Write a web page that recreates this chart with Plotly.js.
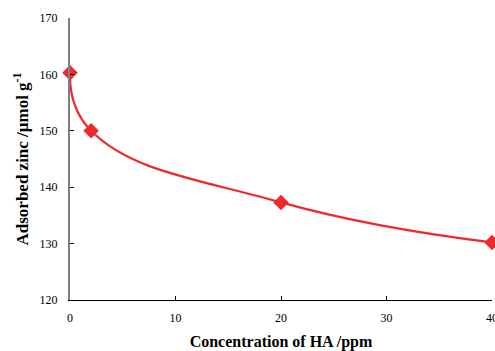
<!DOCTYPE html>
<html>
<head>
<meta charset="utf-8">
<script src="https://cdn.plot.ly/plotly-3.0.1.min.js"></script>
<style>html,body{margin:0;padding:0;background:#fff;}#chart{width:495px;height:351px;}</style>
</head>
<body>
<div id="chart"></div>
<script>
const concentrationHA = [0, 2, 20, 40];
const adsorbedZinc = [160.3, 150.0, 137.3, 130.2];
const xTicks = [0, 10, 20, 30, 40];
const yTicks = [120, 130, 140, 150, 160, 170];

const trace = {
  x: concentrationHA,
  y: adsorbedZinc,
  type: 'scatter',
  mode: 'lines+markers',
  line: {color: '#ee2a2f', width: 2.2, shape: 'spline', smoothing: 1.3},
  marker: {symbol: 'diamond', size: 12, color: '#ee2a2f'},
  cliponaxis: false,
  showlegend: false
};

const serif = "'Liberation Serif', 'Times New Roman', serif";

const layout = {
  width: 495, height: 351,
  margin: {l: 70, r: 3, t: 18, b: 51},
  paper_bgcolor: '#fff', plot_bgcolor: '#fff',
  font: {family: serif, color: '#000', size: 12},
  xaxis: {
    range: [0, 40], tickvals: xTicks, ticktext: xTicks.map(String),
    showgrid: false, zeroline: false, showline: true, linecolor: '#000', linewidth: 1,
    ticks: 'inside', ticklen: 4, tickcolor: '#000',
    ticklabelstandoff: 7, ticklabeloverflow: 'allow',
    tickfont: {family: serif, size: 12},
    title: {text: '<b>Concentration of HA /ppm</b>', font: {family: serif, size: 16}, standoff: 17}
  },
  yaxis: {
    range: [120, 170], tickvals: yTicks, ticktext: yTicks.map(String),
    showgrid: false, zeroline: false, showline: true, linecolor: '#808080', linewidth: 2,
    ticks: 'inside', ticklen: 4, tickcolor: '#000',
    ticklabelstandoff: 8,
    tickfont: {family: serif, size: 12},
    title: {text: '<b>Adsorbed zinc /μmol g<sup>-1</sup></b>', font: {family: serif, size: 17}, standoff: 7}
  }
};

Plotly.newPlot('chart', [trace], layout, {displayModeBar: false, staticPlot: true});
</script>
</body>
</html>
